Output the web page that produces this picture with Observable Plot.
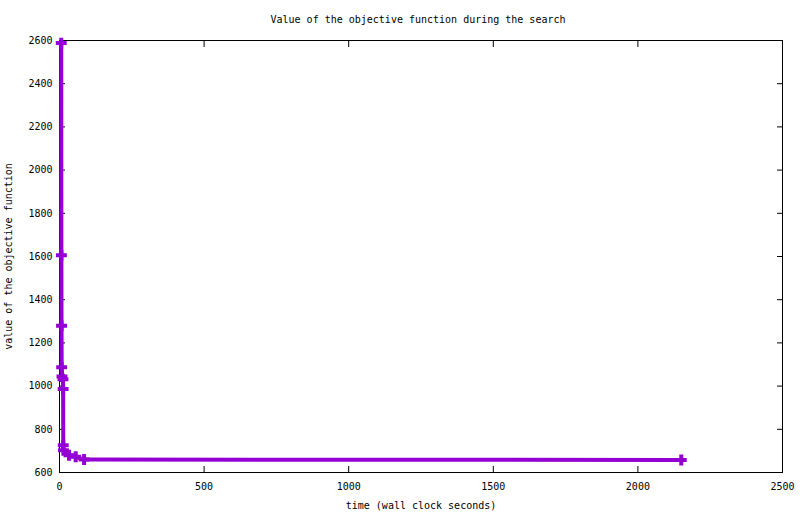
<!DOCTYPE html>
<html>
<head>
<meta charset="utf-8">
<script src="https://cdn.jsdelivr.net/npm/d3@7"></script>
<script src="https://cdn.jsdelivr.net/npm/@observablehq/plot@0.6"></script>
<style>
  body { margin: 0; background: #fff; }
  #title { font: 10px "DejaVu Sans Mono", monospace; height: 30px; line-height: 40px; text-align: center; color: #000; padding-left: 36px; box-sizing: border-box; width: 800px; overflow: hidden; }
</style>
</head>
<body>
<div id="title">Value of the objective function during the search</div>
<div id="graph"></div>
<script>
// search log: wall clock seconds and objective value
const times = [6, 6.5, 7, 7.5, 8.5, 12, 12.5, 13, 13.5, 33, 56, 85, 2150];
const values = [2588, 1606, 1279, 1087, 1044, 1032, 986, 726, 703, 680, 673, 660, 658];
const xTicks = [0, 500, 1000, 1500, 2000, 2500];
const yTicks = [600, 800, 1000, 1200, 1400, 1600, 1800, 2000, 2200, 2400, 2600];

const data = times.map((t, i) => ({time: t, value: values[i]}));
const purple = "#9400d3";

let chart = Plot.plot({
	width: 800,
	height: 484,
	marginLeft: 59,
	marginRight: 18,
	marginTop: 10,
	marginBottom: 42,
	style: {fontFamily: "DejaVu Sans Mono", fontSize: "10px", color: "#000", background: "#fff"},
	x: {domain: [0, 2500]},
	y: {domain: [600, 2600]},
	marks: [
		Plot.frame({stroke: "#000"}),
		Plot.axisX(xTicks, {anchor: "bottom", tickSize: -6, tickPadding: 16, tickFormat: d => String(d), label: "time (wall clock seconds)", labelAnchor: "center", labelArrow: "none", labelOffset: 36}),
		Plot.axisX(xTicks, {anchor: "top", tickSize: -6, text: null, label: null}),
		Plot.axisY(yTicks, {anchor: "left", tickSize: -6, tickPadding: 13, tickFormat: d => String(d), label: "value of the objective function", labelAnchor: "center", labelArrow: "none", labelOffset: 55}),
		Plot.axisY(yTicks, {anchor: "right", tickSize: -6, text: null, label: null}),
		Plot.line(data, {x: "time", y: "value", stroke: purple, strokeWidth: 4}),
		Plot.dot(data, {x: "time", y: "value", symbol: "plus", r: 3.6, stroke: purple, strokeWidth: 4})
	]
});

d3.select("#graph").append(() => chart);
</script>
</body>
</html>
